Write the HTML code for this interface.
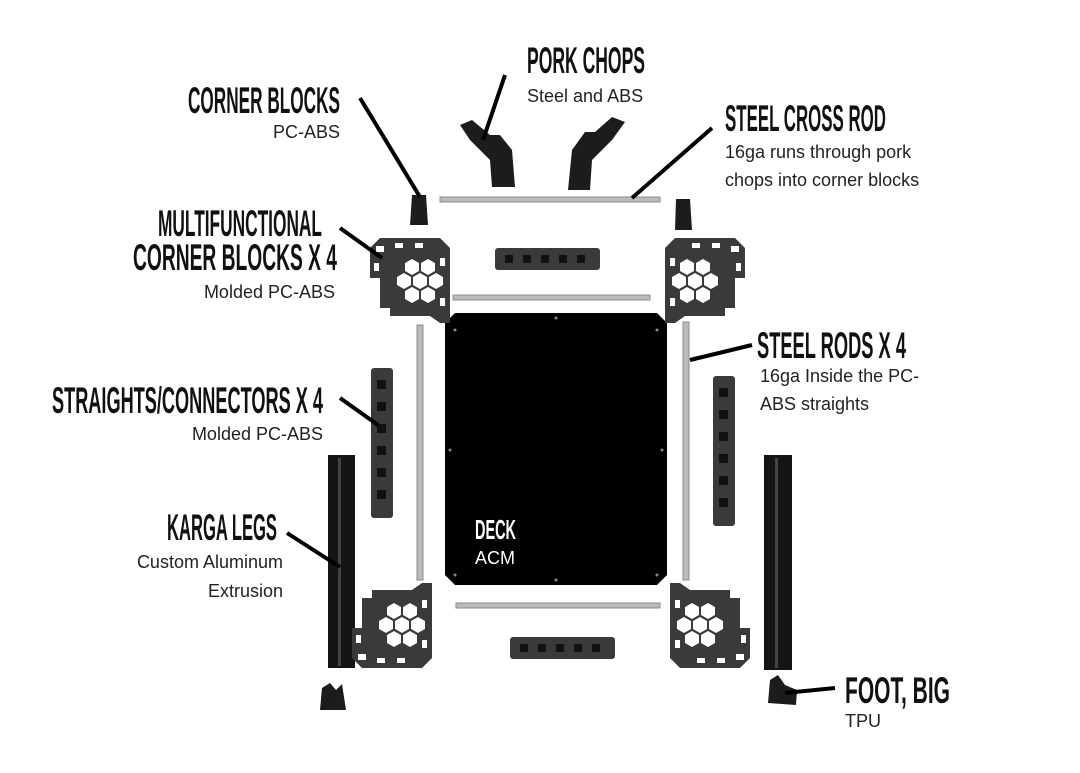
<!DOCTYPE html>
<html><head><meta charset="utf-8"><style>
html,body{margin:0;padding:0;background:#fff;}
svg{display:block}
.h{font-family:"Liberation Sans Narrow","Liberation Sans",sans-serif;font-weight:bold;font-size:37px;fill:#111}
.b{font-family:"Liberation Sans",sans-serif;font-size:18px;fill:#222}
.ld{stroke:#000;stroke-width:4;fill:none}
.rod{fill:#b9bcbf;stroke:#8a8d90;stroke-width:1}
.pc{fill:#3a3a3a}
.dk{fill:#1c1c1c}
</style></head><body>
<svg width="1080" height="773" viewBox="0 0 1080 773" xmlns="http://www.w3.org/2000/svg">
<defs>
<g id="mcb">
 <path d="M0,10 L10,0 L70,0 L80,10 L80,85 L70,85 L60,78 L20,78 L20,70 L10,70 L10,40 L0,40 Z" class="pc"/>
 <g fill="#fff">
  <polygon points="35,25 42,21 49,25 49,33 42,37 35,33"/>
  <polygon points="51,25 58,21 65,25 65,33 58,37 51,33"/>
  <polygon points="27,39 34,35 41,39 41,47 34,51 27,47"/>
  <polygon points="43,39 50,35 57,39 57,47 50,51 43,47"/>
  <polygon points="59,39 66,35 73,39 73,47 66,51 59,47"/>
  <polygon points="35,53 42,49 49,53 49,61 42,65 35,61"/>
  <polygon points="51,53 58,49 65,53 65,61 58,65 51,61"/>
 </g>
 <rect x="6" y="8" width="8" height="6" fill="#fff"/><rect x="25" y="5" width="8" height="5" fill="#fff"/><rect x="45" y="5" width="8" height="5" fill="#fff"/>
 <rect x="4" y="25" width="5" height="8" fill="#fff"/><rect x="70" y="20" width="5" height="8" fill="#fff"/><rect x="70" y="60" width="5" height="8" fill="#fff"/>
</g>
<g id="strH"><rect x="0" y="0" width="105" height="22" rx="3" class="pc"/>
 <g fill="#111"><rect x="10" y="7" width="8" height="8"/><rect x="28" y="7" width="8" height="8"/><rect x="46" y="7" width="8" height="8"/><rect x="64" y="7" width="8" height="8"/><rect x="82" y="7" width="8" height="8"/></g></g>
<g id="strV"><rect x="0" y="0" width="22" height="150" rx="3" class="pc"/>
 <g fill="#111"><rect x="6" y="12" width="9" height="9"/><rect x="6" y="34" width="9" height="9"/><rect x="6" y="56" width="9" height="9"/><rect x="6" y="78" width="9" height="9"/><rect x="6" y="100" width="9" height="9"/><rect x="6" y="122" width="9" height="9"/></g></g>
</defs>

<!-- deck -->
<path d="M455,313 L657,313 L667,323 L667,575 L657,585 L455,585 L445,575 L445,323 Z" fill="#000"/>
<g fill="#888"><circle cx="455" cy="330" r="1.5"/><circle cx="657" cy="330" r="1.5"/><circle cx="455" cy="575" r="1.5"/><circle cx="657" cy="575" r="1.5"/><circle cx="556" cy="318" r="1.5"/><circle cx="556" cy="580" r="1.5"/><circle cx="450" cy="450" r="1.5"/><circle cx="662" cy="450" r="1.5"/></g>
<text x="475" y="539" class="h" fill="#fff" style="fill:#fff;font-size:28px" textLength="41" lengthAdjust="spacingAndGlyphs">DECK</text>
<text x="475" y="564" class="b" style="fill:#fff">ACM</text>

<!-- rods -->
<rect x="440" y="197" width="220" height="5" class="rod"/>
<rect x="453" y="295" width="197" height="5" class="rod"/>
<rect x="456" y="603" width="204" height="5" class="rod"/>
<rect x="417" y="325" width="6" height="255" class="rod"/>
<rect x="683" y="322" width="6" height="258" class="rod"/>

<!-- straights -->
<use href="#strH" x="495" y="248"/>
<use href="#strH" x="510" y="637"/>
<use href="#strV" x="371" y="368"/>
<use href="#strV" x="713" y="376"/>

<!-- legs -->
<rect x="328" y="455" width="27" height="213" fill="#151515"/><rect x="338" y="458" width="3" height="208" fill="#444"/>
<rect x="764" y="455" width="28" height="215" fill="#151515"/><rect x="775" y="458" width="3" height="210" fill="#444"/>

<!-- corner blocks -->
<use href="#mcb" x="370" y="238"/>
<use href="#mcb" transform="translate(745,238) scale(-1,1)"/>
<use href="#mcb" transform="translate(352,668) scale(1,-1)"/>
<use href="#mcb" transform="translate(750,668) scale(-1,-1)"/>

<!-- small corner blocks -->
<path d="M412,195 L426,195 L428,225 L410,225 Z" class="dk"/>
<path d="M676,199 L690,199 L692,230 L675,230 Z" class="dk"/>

<!-- pork chops -->
<path d="M460,125 L472,120 L490,135 L500,135 L512,150 L515,187 L492,187 L490,160 L470,140 Z" class="dk"/>
<path d="M625,122 L612,117 L595,132 L585,132 L572,150 L568,190 L590,190 L592,160 L612,140 Z" class="dk"/>

<!-- feet -->
<path d="M320,710 L322,688 L330,683 L336,690 L342,684 L346,710 Z" class="dk"/>
<path d="M768,703 L770,680 L778,675 L785,685 L797,690 L796,705 Z" class="dk"/>

<!-- leaders -->
<line class="ld" x1="360" y1="98" x2="420" y2="197"/>
<line class="ld" x1="505" y1="75" x2="483" y2="140"/>
<line class="ld" x1="712" y1="128" x2="632" y2="198"/>
<line class="ld" x1="340" y1="228" x2="382" y2="258"/>
<line class="ld" x1="340" y1="398" x2="378" y2="425"/>
<line class="ld" x1="752" y1="345" x2="690" y2="360"/>
<line class="ld" x1="287" y1="533" x2="340" y2="567"/>
<line class="ld" x1="835" y1="688" x2="785" y2="693"/>

<!-- labels -->
<text class="h" x="527" y="73" textLength="118" lengthAdjust="spacingAndGlyphs">PORK CHOPS</text>
<text class="b" x="527" y="102">Steel and ABS</text>
<text class="h" x="725" y="131" textLength="161" lengthAdjust="spacingAndGlyphs">STEEL CROSS ROD</text>
<text class="b" x="725" y="158">16ga runs through pork</text>
<text class="b" x="725" y="186">chops into corner blocks</text>
<text class="h" x="188" y="113" textLength="152" lengthAdjust="spacingAndGlyphs">CORNER BLOCKS</text>
<text class="b" x="340" y="138" text-anchor="end">PC-ABS</text>
<text class="h" x="158" y="236" textLength="164" lengthAdjust="spacingAndGlyphs">MULTIFUNCTIONAL</text>
<text class="h" x="133" y="270" textLength="204" lengthAdjust="spacingAndGlyphs">CORNER BLOCKS X 4</text>
<text class="b" x="335" y="298" text-anchor="end">Molded PC-ABS</text>
<text class="h" x="52" y="413" textLength="271" lengthAdjust="spacingAndGlyphs">STRAIGHTS/CONNECTORS X 4</text>
<text class="b" x="323" y="440" text-anchor="end">Molded PC-ABS</text>
<text class="h" x="167" y="540" textLength="110" lengthAdjust="spacingAndGlyphs">KARGA LEGS</text>
<text class="b" x="283" y="568" text-anchor="end">Custom Aluminum</text>
<text class="b" x="283" y="597" text-anchor="end">Extrusion</text>
<text class="h" x="757" y="358" textLength="149" lengthAdjust="spacingAndGlyphs">STEEL RODS X 4</text>
<text class="b" x="760" y="382">16ga Inside the PC-</text>
<text class="b" x="760" y="410">ABS straights</text>
<text class="h" x="845" y="703" textLength="105" lengthAdjust="spacingAndGlyphs">FOOT, BIG</text>
<text class="b" x="845" y="727">TPU</text>
</svg>
</body></html>
